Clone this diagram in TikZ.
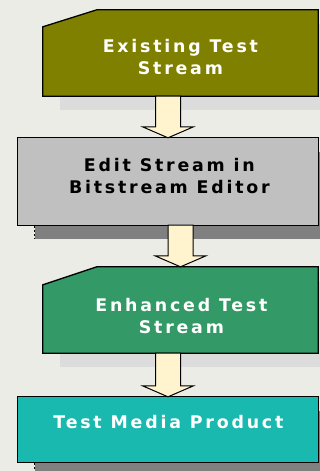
\documentclass[tikz,border=0pt]{standalone}
\usepackage{fontspec}
\newfontfamily\boxfont{DejaVu Sans}[LetterSpace=16]
\usetikzlibrary{calc}
\definecolor{pagebg}{RGB}{236,236,230}
\definecolor{olivebox}{RGB}{128,128,0}
\definecolor{silverbox}{RGB}{192,192,192}
\definecolor{greenbox}{RGB}{51,153,102}
\definecolor{tealbox}{RGB}{26,185,176}
\definecolor{shadelight}{RGB}{220,220,220}
\definecolor{shadedark}{RGB}{128,128,128}
\definecolor{arrowfill}{RGB}{255,244,206}
\newcommand\flowarrow[2]{%
  \draw[flowarrowstyle] let \p1=(#1.south), \p2=(#2.north) in
    (\x2-12.5pt,\y1) -- (\x2+12.5pt,\y1) -- (\x2+12.5pt,\y2+11pt) -- (\x2+25.5pt,\y2+11pt)
    -- (\x2,\y2) -- (\x2-25.5pt,\y2+11pt) -- (\x2-12.5pt,\y2+11pt) -- cycle;}
\begin{document}
\begin{tikzpicture}[x=1pt,y=-1pt,
  boxshape/.style={rectangle,inner sep=0pt,minimum width=#1},
  boxline/.style={draw=black,line width=1.3pt,line join=miter},
  flowarrowstyle/.style={draw=black,fill=arrowfill,line width=1pt,line join=miter},
  boxtext/.style={inner sep=0pt,align=center,font=\boxfont\bfseries\fontsize{17.4pt}{21.7pt}\selectfont},
  shadowbox/.style={fill=#1},
  shadowedge/.style={draw=black,line width=1pt,dash pattern=on 2pt off 2pt}]
\useasboundingbox (0,0) rectangle (320,471);
\fill[pagebg] (0,0) rectangle (320,471);
% box frames (placed first, painted below)
\node[boxshape=275pt,minimum height=86pt] (b1) at (180.5,53) {};
\node[boxshape=300pt,minimum height=87pt] (b2) at (168,181.5) {};
\node[boxshape=275pt,minimum height=86pt] (b3) at (180.5,310) {};
\node[boxshape=300pt,minimum height=65pt] (b4) at (168,429.5) {};
% shadows
\fill[shadelight] ($(b1.north west)+(17,14)$) rectangle ($(b1.south east)+(17,14)$);
\fill[shadedark] ($(b2.north west)+(17,14)$) rectangle ($(b2.south east)+(17,14)$);
\fill[shadelight] ($(b3.north west)+(17,14)$) rectangle ($(b3.south east)+(17,14)$);
\fill[shadedark] ($(b4.north west)+(17,14)$) rectangle ($(b4.south east)+(17,14)$);
\draw[shadowedge] ($(b2.south west)+(17,1)$) -- ($(b2.south west)+(17,14)$);
\draw[shadowedge] ($(b4.south west)+(17,1)$) -- ($(b4.south west)+(17,14)$);
% boxes
\draw[boxline,fill=olivebox] ($(b1.north west)+(0,17)$) -- ($(b1.north west)+(54,0)$) -- (b1.north east) -- (b1.south east) -- (b1.south west) -- cycle;
\draw[boxline,fill=silverbox] (b2.north west) rectangle (b2.south east);
\draw[boxline,fill=greenbox] ($(b3.north west)+(0,18)$) -- ($(b3.north west)+(54,0)$) -- (b3.north east) -- (b3.south east) -- (b3.south west) -- cycle;
\draw[boxline,fill=tealbox] (b4.north west) rectangle (b4.south east);
% arrows
\flowarrow{b1}{b2}
\flowarrow{b2}{b3}
\flowarrow{b3}{b4}
% texts
\node[boxtext,text=white] (t1) at (180.4,56.9) {Existing Test\\Stream};
\node[boxtext,text=black] (t2) at (169.4,175.9) {Edit Stream in\\Bitstream Editor};
\node[boxtext,text=white] (t3) at (181.4,315.9) {Enhanced Test\\Stream};
\node[boxtext,text=white,anchor=base] (t4) at (168.4,428.3) {Test Media Product};
\end{tikzpicture}
\end{document}
